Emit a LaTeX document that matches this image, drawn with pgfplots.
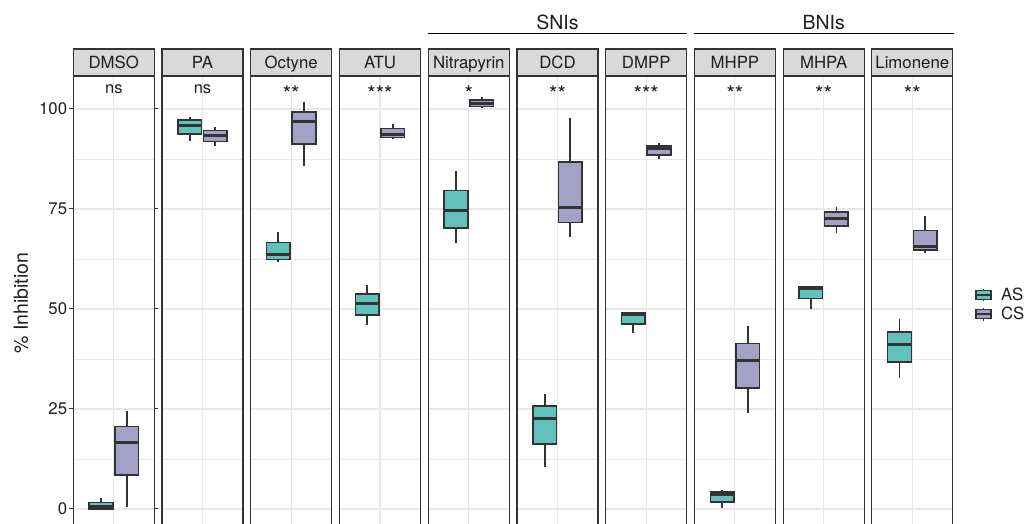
\documentclass[border=0pt]{standalone}
\usepackage{pgfplots}
\pgfplotsset{compat=1.18}
\usepgfplotslibrary{statistics}
\usepackage{fontspec}
\setmainfont{TeX Gyre Heros}
\definecolor{asc}{RGB}{98,193,187}
\definecolor{csc}{RGB}{163,162,198}
\definecolor{frame}{RGB}{51,51,51}
\definecolor{gridc}{RGB}{232,232,232}
\definecolor{stripc}{RGB}{217,217,217}
\definecolor{txt}{RGB}{30,30,30}
\newcommand{\fs}[1]{\fontsize{#1}{#1}\selectfont}
\pgfplotsset{
 panel/.style={
  scale only axis, width=81pt, height=448pt, anchor=south west,
  xmin=0.4, xmax=1.6, ymin=-3.75, ymax=108.25,
  xtick={1}, xticklabels={}, ytick={0,25,50,75,100}, minor ytick={12.5,37.5,62.5,87.5},
  grid=both,
  major grid style={draw=gridc, line width=1.1pt},
  minor grid style={draw=gridc, line width=0.6pt},
  xtick style={draw=none}, ytick style={draw=none},
  minor tick length=0pt,
  separate axis lines,
  axis line style={draw=frame, line width=1.1pt},
  every outer x axis line/.append style={draw=none},
  clip=false,
  boxplot/draw direction=y,
  boxplot/box extend=0.35,
  boxplot/whisker extend=0,
  boxplot/every median/.style={line width=3pt},
  boxplot/every whisker/.style={line width=1.8pt},
 },
 inner/.style={yticklabels={}},
 asbox/.style={draw=frame, fill=asc, line width=1.5pt, solid, mark=none, forget plot},
 csbox/.style={draw=frame, fill=csc, line width=1.5pt, solid, mark=none, forget plot},
}
\newcommand{\strip}[1]{%
 \draw[fill=stripc, draw=frame, line width=1.1pt] (rel axis cs:0,1) rectangle ([yshift=27pt]rel axis cs:1,1);
 \node[anchor=base, font=\fs{16.8}, text=txt, inner sep=0pt] at ([yshift=7.7pt]rel axis cs:0.5,1) {#1};
}
\newcommand{\signs}[1]{\node[anchor=base, font=\fs{16.5}, text=txt, inner sep=0pt] at (axis cs:1,103.9) {#1};}
\newcommand{\sigst}[1]{\node[anchor=base, font=\fs{21.5}, text=txt, inner sep=0pt] at (axis cs:1,101.8) {#1};}
\begin{document}
\begin{tikzpicture}
\path[use as bounding box] (0pt,0pt) rectangle (1030pt,524pt);

% DMSO
\begin{axis}[panel, at={(73.3pt,0pt)},
  ytick style={draw=frame, line width=1pt}, major tick length=4pt, tick align=outside,
  yticklabel style={font=\fs{16.8}, text=txt, inner sep=2pt},
  /pgf/number format/assume math mode=true,
  ylabel={\% Inhibition},
  every axis y label/.style={at={(rel axis cs:-0.6457,0.493)}, rotate=90, anchor=center, font=\fs{19.5}, text=txt}]
\addplot[asbox, boxplot prepared={draw position=0.81, lower whisker=0, lower quartile=0, median=0.6, upper quartile=1.6, upper whisker=2.8}] coordinates {};
\addplot[csbox, boxplot prepared={draw position=1.19, lower whisker=0.4, lower quartile=8.5, median=16.6, upper quartile=20.6, upper whisker=24.5}] coordinates {};
\strip{DMSO}\signs{ns}
\end{axis}

% PA
\begin{axis}[panel, inner, at={(162.0pt,0pt)}]
\addplot[asbox, boxplot prepared={draw position=0.81, lower whisker=92.0, lower quartile=93.75, median=95.75, upper quartile=97.2, upper whisker=98.1}] coordinates {};
\addplot[csbox, boxplot prepared={draw position=1.19, lower whisker=90.75, lower quartile=91.9, median=93.25, upper quartile=94.6, upper whisker=95.4}] coordinates {};
\strip{PA}\signs{ns}
\end{axis}

% Octyne
\begin{axis}[panel, inner, at={(250.7pt,0pt)}]
\addplot[asbox, boxplot prepared={draw position=0.81, lower whisker=61.75, lower quartile=62.4, median=63.5, upper quartile=66.6, upper whisker=69.25}] coordinates {};
\addplot[csbox, boxplot prepared={draw position=1.19, lower whisker=85.75, lower quartile=91.2, median=96.8, upper quartile=99.3, upper whisker=101.8}] coordinates {};
\strip{Octyne}\sigst{**}
\end{axis}

% ATU
\begin{axis}[panel, inner, at={(339.5pt,0pt)}]
\addplot[asbox, boxplot prepared={draw position=0.81, lower whisker=46, lower quartile=48.5, median=51.25, upper quartile=53.75, upper whisker=56}] coordinates {};
\addplot[csbox, boxplot prepared={draw position=1.19, lower whisker=92.6, lower quartile=92.9, median=93.6, upper quartile=95.1, upper whisker=96.2}] coordinates {};
\strip{ATU}\sigst{***}
\end{axis}

% Nitrapyrin
\begin{axis}[panel, inner, at={(428.3pt,0pt)}]
\addplot[asbox, boxplot prepared={draw position=0.81, lower whisker=66.4, lower quartile=70.3, median=74.5, upper quartile=79.6, upper whisker=84.6}] coordinates {};
\addplot[csbox, boxplot prepared={draw position=1.19, lower whisker=100.4, lower quartile=100.6, median=101.3, upper quartile=102.2, upper whisker=102.9}] coordinates {};
\strip{Nitrapyrin}\sigst{*}
\end{axis}

% DCD
\begin{axis}[panel, inner, at={(517.0pt,0pt)}]
\addplot[asbox, boxplot prepared={draw position=0.81, lower whisker=10.6, lower quartile=16.3, median=22.5, upper quartile=25.75, upper whisker=28.75}] coordinates {};
\addplot[csbox, boxplot prepared={draw position=1.19, lower whisker=67.9, lower quartile=71.6, median=75.4, upper quartile=86.7, upper whisker=97.8}] coordinates {};
\strip{DCD}\sigst{**}
\end{axis}

% DMPP
\begin{axis}[panel, inner, at={(605.7pt,0pt)}]
\addplot[asbox, boxplot prepared={draw position=0.81, lower whisker=44.1, lower quartile=46.2, median=48.6, upper quartile=49.1, upper whisker=49.3}] coordinates {};
\addplot[csbox, boxplot prepared={draw position=1.19, lower whisker=87.6, lower quartile=88.5, median=90.0, upper quartile=90.8, upper whisker=91.4}] coordinates {};
\strip{DMPP}\sigst{***}
\end{axis}

% MHPP
\begin{axis}[panel, inner, at={(694.4pt,0pt)}]
\addplot[asbox, boxplot prepared={draw position=0.81, lower whisker=0.3, lower quartile=1.7, median=3.6, upper quartile=4.25, upper whisker=4.75}] coordinates {};
\addplot[csbox, boxplot prepared={draw position=1.19, lower whisker=23.9, lower quartile=30.25, median=37, upper quartile=41.4, upper whisker=45.8}] coordinates {};
\strip{MHPP}\sigst{**}
\end{axis}

% MHPA
\begin{axis}[panel, inner, at={(783.1pt,0pt)}]
\addplot[asbox, boxplot prepared={draw position=0.81, lower whisker=50.1, lower quartile=52.6, median=55.2, upper quartile=55.6, upper whisker=55.7}] coordinates {};
\addplot[csbox, boxplot prepared={draw position=1.19, lower whisker=69.1, lower quartile=70.75, median=72.7, upper quartile=74.25, upper whisker=75.6}] coordinates {};
\strip{MHPA}\sigst{**}
\end{axis}

% Limonene
\begin{axis}[panel, inner, at={(871.8pt,0pt)},
  legend style={at={(rel axis cs:1,0.4895)}, anchor=west, xshift=22pt, draw=none, fill=none,
    font=\fs{16.8}, text=txt, inner sep=0pt, row sep=1pt,
    /tikz/every odd column/.append style={column sep=7pt}},
  legend cell align=left]
\addplot[asbox, boxplot prepared={draw position=0.81, lower whisker=32.8, lower quartile=36.8, median=41, upper quartile=44.3, upper whisker=47.5}] coordinates {};
\addplot[csbox, boxplot prepared={draw position=1.19, lower whisker=63.9, lower quartile=64.75, median=65.6, upper quartile=69.6, upper whisker=73.3}] coordinates {};
\strip{Limonene}\sigst{**}
\addlegendimage{legend image code/.code={
  \draw[frame, line width=1pt] (7.5pt,-6.3pt) -- (7.5pt,6.3pt);
  \draw[fill=asc, draw=frame, line width=1.1pt] (0pt,-4.3pt) rectangle (15pt,4.3pt);
  \draw[frame, line width=2pt] (0pt,0pt) -- (15pt,0pt);}}
\addlegendentry{AS}
\addlegendimage{legend image code/.code={
  \draw[frame, line width=1pt] (7.5pt,-6.3pt) -- (7.5pt,6.3pt);
  \draw[fill=csc, draw=frame, line width=1.1pt] (0pt,-4.3pt) rectangle (15pt,4.3pt);
  \draw[frame, line width=2pt] (0pt,0pt) -- (15pt,0pt);}}
\addlegendentry{CS}
\end{axis}

% group brackets
\draw[black, line width=1.1pt] (428.3pt,490.7pt) -- (686.7pt,490.7pt);
\draw[black, line width=1.1pt] (694.0pt,490.7pt) -- (953.5pt,490.7pt);
\node[anchor=base, font=\fs{19.5}, text=txt, inner sep=0pt] at (557.5pt,494.7pt) {SNIs};
\node[anchor=base, font=\fs{19.5}, text=txt, inner sep=0pt] at (823.7pt,494.7pt) {BNIs};
\end{tikzpicture}
\end{document}
